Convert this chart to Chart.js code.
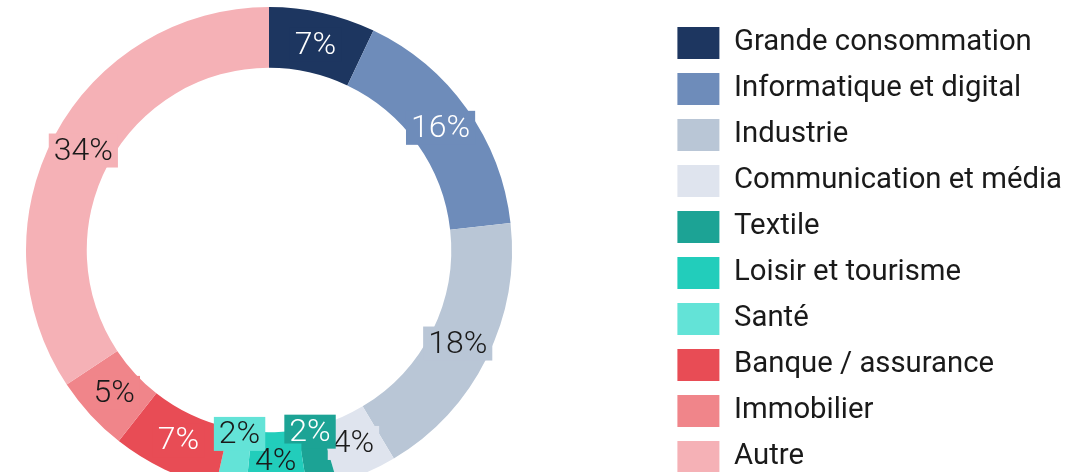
<!DOCTYPE html>
<html>
<head>
<meta charset="utf-8">
<script src="https://cdn.jsdelivr.net/npm/chart.js@4/dist/chart.umd.min.js"></script>
<style>
  html, body { margin: 0; padding: 0; background: #fff; overflow: hidden; }
  #wrap { position: absolute; left: 0; top: 0; width: 1091px; height: 500px; }
</style>
</head>
<body>
<div id="wrap"><canvas id="sectorChart" width="1091" height="500"></canvas></div>
<script>
// secteurs d'activité
const sectors = [
  "Grande consommation",
  "Informatique et digital",
  "Industrie",
  "Communication et média",
  "Textile",
  "Loisir et tourisme",
  "Santé",
  "Banque / assurance",
  "Immobilier",
  "Autre",
];
const shares = [7, 16, 18, 4, 2, 4, 2, 7, 5, 34];
const sectorColors = [
  "#1d3660",
  "#6e8cba",
  "#b9c6d6",
  "#dfe4ee",
  "#1ca395",
  "#22cdbb",
  "#63e3d7",
  "#e84c55",
  "#f0858a",
  "#f5b1b6",
];

// light slice -> dark text
const isLight = (hex) => {
  const c = [1, 3, 5].map((i) => parseInt(hex.substr(i, 2), 16) / 255);
  const lin = c.map((v) => (v <= 0.03928 ? v / 12.92 : Math.pow((v + 0.055) / 1.055, 2.4)));
  return 0.2126 * lin[0] + 0.7152 * lin[1] + 0.0722 * lin[2] > 0.33;
};

// keep the doughnut square on the left, legend stays on the right
const squareArea = {
  id: "squareArea",
  afterLayout(chart) {
    const a = chart.chartArea;
    a.right = a.left + (a.bottom - a.top);
    a.width = a.right - a.left;
  },
};

// percent labels with a box in the slice colour
// tiny slices get their label pushed to the inner edge
const pctLabels = {
  id: "pctLabels",
  afterDatasetsDraw(chart) {
    const { ctx } = chart;
    const meta = chart.getDatasetMeta(0);
    const total = shares.reduce((a, b) => a + b, 0);
    ctx.save();
    ctx.font = "300 32px Roboto";
    ctx.textAlign = "center";
    ctx.textBaseline = "middle";
    meta.data.forEach((arc, i) => {
      const p = arc.getProps(["x", "y", "startAngle", "endAngle", "innerRadius", "outerRadius"], true);
      const mid = (p.startAngle + p.endAngle) / 2;
      const pct = Math.round((shares[i] / total) * 100);
      const r = pct <= 2 ? p.innerRadius + 4 : (p.innerRadius + p.outerRadius) / 2 - 2;
      const x = p.x + Math.cos(mid) * r;
      const y = p.y + Math.sin(mid) * r;
      const txt = pct + "%";
      const w = ctx.measureText(txt).width + 10;
      const h = 34;
      ctx.fillStyle = sectorColors[i];
      ctx.fillRect(x - w / 2, y - h / 2, w, h);
      ctx.fillStyle = isLight(sectorColors[i]) ? "#1a1a1a" : "#ffffff";
      ctx.fillText(txt, x, y + 1);
    });
    ctx.restore();
  },
};

const data = {
  labels: sectors,
  datasets: [
    {
      data: shares,
      backgroundColor: sectorColors,
      borderWidth: 0,
    },
  ],
};

const config = {
  type: "doughnut",
  data: data,
  options: {
    responsive: false,
    animation: false,
    cutout: "75%",
    layout: { padding: { left: 26, top: 7, bottom: 7, right: 19 } },
    plugins: {
      tooltip: { enabled: false },
      legend: {
        position: "right",
        align: "start",
        title: { display: true, text: "", padding: 0, font: { size: 6, lineHeight: 1 } },
        labels: {
          boxWidth: 42,
          boxHeight: 32,
          padding: 14,
          color: "#1a1a1a",
          font: { family: "Roboto", size: 29.3, weight: "400" },
        },
      },
    },
  },
  plugins: [squareArea, pctLabels],
};

const sectorChart = new Chart(document.getElementById("sectorChart"), config);
</script>
</body>
</html>
